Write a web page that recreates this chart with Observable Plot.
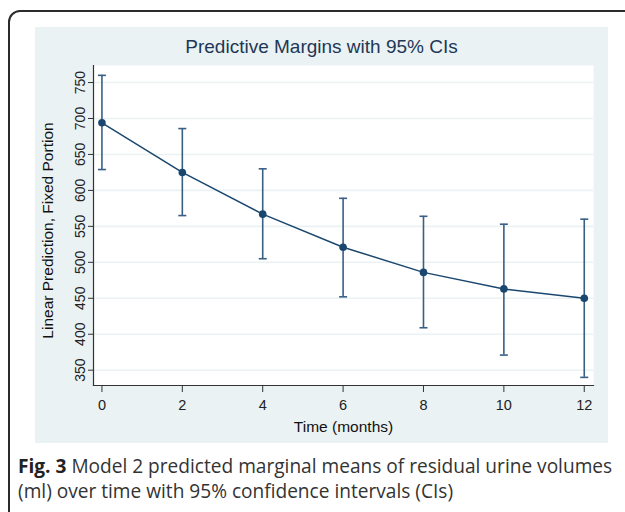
<!DOCTYPE html>
<html><head><meta charset="utf-8">
<script src="https://cdn.jsdelivr.net/npm/d3@7"></script>
<script src="https://cdn.jsdelivr.net/npm/@observablehq/plot@0.6"></script>
<style>
body{margin:0;width:625px;height:512px;overflow:hidden;background:#fff;position:relative;font-family:"Liberation Sans",Arial,sans-serif;}
#frame{position:absolute;left:8px;top:10px;width:650px;height:530px;border:2px solid #2b2b2b;border-radius:12px;box-sizing:border-box;}
#panel{position:absolute;left:35px;top:27px;width:573px;height:416px;background:#eaf2f3;}
#title{position:absolute;left:35px;width:573px;top:36px;text-align:center;font-size:19px;line-height:22px;color:#1e3756;}
#chart{position:absolute;left:35px;top:60px;}
#caption{position:absolute;left:18px;top:454px;width:603px;font-family:"Open Sans",sans-serif;font-size:19.1px;line-height:25px;color:#333;white-space:nowrap;}
#caption b{color:#222;}
</style></head>
<body>
<div id="frame"></div>
<div id="panel"></div>
<div id="title">Predictive Margins with 95% CIs</div>
<div id="chart"></div>
<div id="caption"><b>Fig. 3</b> Model 2 predicted marginal means of residual urine volumes<br>(ml) over time with 95% confidence intervals (CIs)</div>
<script>
const months = [0, 2, 4, 6, 8, 10, 12];
const margin = [694, 625, 567, 521, 486, 463, 450];
const ciLow  = [629, 565, 505, 452, 409, 371, 340];
const ciHigh = [760, 686, 630, 589, 564, 553, 560];
const xTicks = [0, 2, 4, 6, 8, 10, 12];
const yTicks = [350, 400, 450, 500, 550, 600, 650, 700, 750];
const yTitle = "Linear Prediction, Fixed Portion";
const xTitle = "Time (months)";

const data = months.map((t, i) => ({t, m: margin[i], lo: ciLow[i], hi: ciHigh[i]}));
const navy = "#1a476f";
const capSymbol = {draw(ctx, size) { const w = Math.sqrt(size / Math.PI); ctx.moveTo(-w, 0); ctx.lineTo(w, 0); }};

const chart = Plot.plot({
  width: 573, height: 383,
  marginLeft: 58, marginRight: 15, marginTop: 5, marginBottom: 58,
  style: {background: "transparent", fontFamily: "Liberation Sans, Arial, sans-serif", color: "#222", overflow: "visible"},
  x: {domain: [-0.21, 12.23]},
  y: {domain: [328.7, 773.7]},
  marks: [
    Plot.frame({fill: "white", stroke: null}),
    Plot.gridY(yTicks, {stroke: "#eaf2f3", strokeOpacity: 1, strokeWidth: 1.6}),
    Plot.frame({anchor: "left", stroke: "#333", strokeWidth: 1.2}),
    Plot.frame({anchor: "bottom", stroke: "#333", strokeWidth: 1.2}),
    Plot.axisY(yTicks, {tickSize: 5, tickRotate: -90, fontSize: 14, label: null, stroke: "#333"}),
    Plot.axisX(xTicks, {tickSize: 7, tickPadding: 7, fontSize: 14.5, label: null, stroke: "#333"}),
    Plot.text([yTitle], {frameAnchor: "left", dx: -45, dy: 5, rotate: -90, textAnchor: "middle", text: d => d, fontSize: 15.5, fill: "#111"}),
    Plot.text([xTitle], {frameAnchor: "bottom", dy: 46, text: d => d, fontSize: 15.5, fill: "#111"}),
    Plot.ruleX(data, {x: "t", y1: "lo", y2: "hi", stroke: "#3a5f85", strokeWidth: 1.6}),
    Plot.dot(data, {x: "t", y: "lo", symbol: capSymbol, r: 4, stroke: "#3a5f85", strokeWidth: 1.6}),
    Plot.dot(data, {x: "t", y: "hi", symbol: capSymbol, r: 4, stroke: "#3a5f85", strokeWidth: 1.6}),
    Plot.line(data, {x: "t", y: "m", stroke: navy, strokeWidth: 1.5, curve: "linear"}),
    Plot.dot(data, {x: "t", y: "m", r: 3.8, fill: navy, stroke: null})
  ]
});
document.getElementById("chart").appendChild(chart);
</script>
</body></html>
